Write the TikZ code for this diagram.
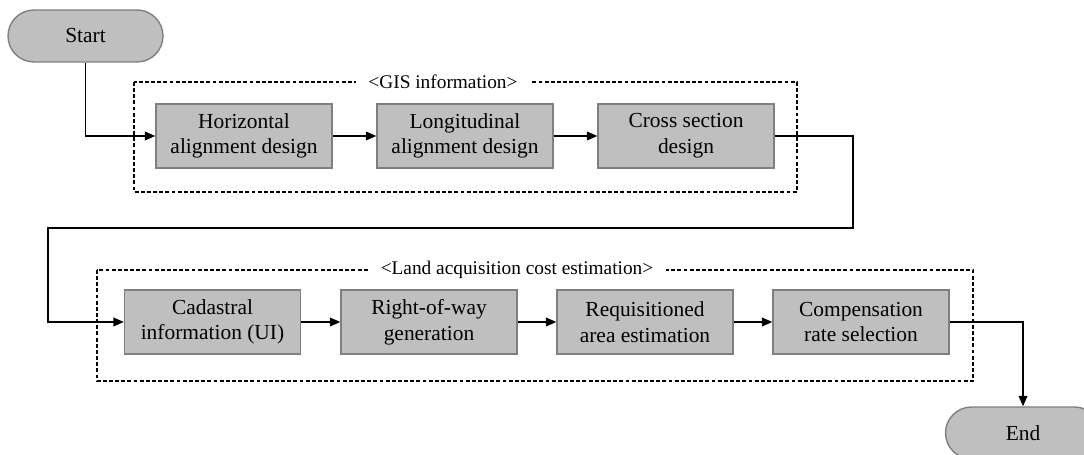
\documentclass[tikz,border=0pt]{standalone}
\usepackage{fontspec}
\setmainfont{Liberation Serif}
\usetikzlibrary{arrows.meta}

\definecolor{boxgray}{HTML}{BFBFBF}
\definecolor{edgegray}{HTML}{7F7F7F}

\begin{document}
\begin{tikzpicture}[
    x=0.02cm, y=-0.02cm,
    pbox/.style={rectangle, draw=edgegray, fill=boxgray, line width=0.8pt,
                 minimum width=3.52cm, minimum height=1.28cm, align=center,
                 inner sep=2pt, font=\fontsize{12.2}{14.6}\selectfont},
    term/.style={rectangle, rounded corners=0.52cm, draw=edgegray, fill=boxgray,
                 line width=0.8pt, minimum width=3.1cm, minimum height=1.04cm,
                 font=\fontsize{12.2}{14.6}\selectfont},
    grp/.style={draw, dash pattern=on 2.2pt off 1.3pt, line width=0.7pt},
    grplbl/.style={fill=white, inner xsep=7pt, inner ysep=1pt, font=\fontsize{11}{13}\selectfont},
    arr/.style={-{Triangle[length=6pt, width=5pt]}, line width=0.9pt},
  ]
  \clip (0,0) rectangle (1084,455);

  % --- terminals ---
  \node[term] (start) at (85.5, 36) {Start};
  \node[term] (stop)  at (1023, 433) {End};

  % --- GIS information (top) ---
  \draw[grp] (134, 82) rectangle (797, 192);
  \node[grplbl] (gis) at (443, 82) {<GIS information>};
  \node[pbox] (hor)   at (244, 136) {Horizontal\\alignment design};
  \node[pbox] (lon)   at (465, 136) {Longitudinal\\alignment design};
  \node[pbox] (cross) at (686, 136) {Cross section\\design};

  \draw[arr] (start.south) |- (hor.west);
  \draw[arr] (hor) -- (lon);
  \draw[arr] (lon) -- (cross);

  % --- Land acquisition cost estimation (bottom) ---
  \draw[grp] (97, 270) rectangle (973, 381);
  \node[grplbl] (land) at (517, 270) {<Land acquisition cost estimation>};
  \node[pbox] (cad)  at (212.5, 322) {Cadastral\\information (UI)};
  \node[pbox] (row)  at (429, 322) {Right-of-way\\generation};
  \node[pbox] (req)  at (645, 322) {Requisitioned\\area estimation};
  \node[pbox] (comp) at (861, 322) {Compensation\\rate selection};

  \draw[arr] (cad) -- (row);
  \draw[arr] (row) -- (req);
  \draw[arr] (req) -- (comp);

  % --- links between rows ---
  \coordinate (turnR) at (853, 228);
  \coordinate (turnL) at (48, 228);
  \draw[arr] (cross.east) -| (turnR) -- (turnL) |- (cad.west);
  \draw[arr] (comp.east) -| (stop.north);

\end{tikzpicture}
\end{document}
